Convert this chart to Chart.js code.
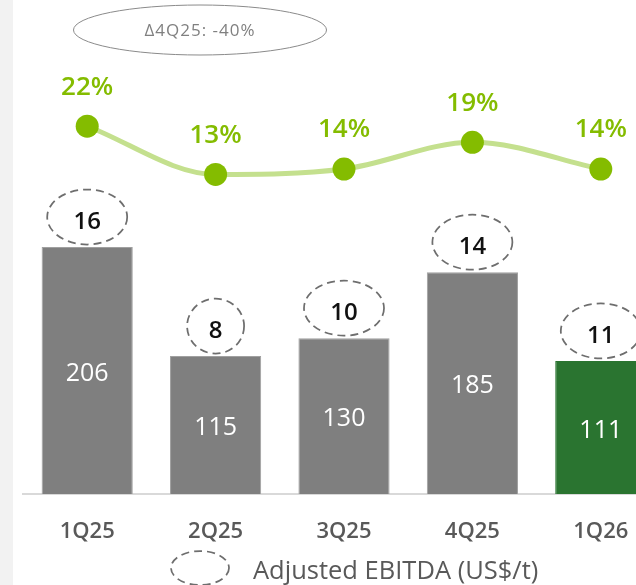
<!DOCTYPE html>
<html><head><meta charset="utf-8">
<script src="https://cdn.jsdelivr.net/npm/chart.js@4"></script>
<style>
html,body{margin:0;padding:0;overflow:hidden;background:#fff}
#wrap{position:relative;width:636px;height:585px;overflow:hidden}
canvas{position:absolute;left:0;top:0}
</style>
</head><body><div id="wrap"><canvas id="c" width="680" height="585" style="width:680px;height:585px"></canvas></div>
<script>
const categories = ['1Q25','2Q25','3Q25','4Q25','1Q26'];
const volumeValues = [206,115,130,185,111];
const marginValues = [22,13,14,19,14];
const marginLabels = ['22%','13%','14%','19%','14%'];
const ebitdaValues = [16,8,10,14,11];
const deltaNote = 'Δ4Q25: -40%';
const legendLabel = 'Adjusted EBITDA (US$/t)';

const FONT = '"Open Sans", "Noto Sans", sans-serif';
const GRAY = '#7f7f7f', GREEN = '#2a7430', LIME = '#84bc00', LIME_LIGHT = '#c4e08e';

function dashedEllipse(c, cx, cy, rx, ry){
  c.save();
  c.setLineDash([8,5]);
  c.lineWidth = 1.75;
  c.strokeStyle = '#6e6e6e';
  c.beginPath();
  c.ellipse(cx, cy, rx, ry, 0, 0, Math.PI*2);
  c.stroke();
  c.restore();
}

const overlay = {
  id: 'overlay',
  beforeDraw(chart){
    const c = chart.ctx;
    c.save();
    c.fillStyle = '#f2f2f2';
    c.fillRect(0, 0, 13, chart.height);
    c.restore();
  },
  afterDatasetsDraw(chart){
    const c = chart.ctx;
    const bars = chart.getDatasetMeta(0).data;
    const pts = chart.getDatasetMeta(1).data;
    c.save();
    c.textAlign = 'center';
    c.textBaseline = 'middle';
    // bar value labels
    c.fillStyle = '#ffffff';
    c.font = '25px ' + FONT;
    bars.forEach((b, i) => {
      c.fillText(String(volumeValues[i]), b.x, (b.y + b.base) / 2 + 3);
    });
    // EBITDA ellipses
    bars.forEach((b, i) => {
      const s = String(ebitdaValues[i]);
      const rx = s.length > 1 ? 40 : 28.5;
      const cy = b.y - 30;
      dashedEllipse(c, b.x, cy, rx, 27.5);
      c.fillStyle = '#111111';
      c.font = '600 24px ' + FONT;
      c.fillText(s, b.x, cy + 5);
    });
    // margin labels
    c.fillStyle = LIME;
    c.font = '600 26px ' + FONT;
    pts.forEach((p, i) => {
      c.fillText(marginLabels[i], p.x, p.y - 39);
    });
    // delta note
    c.strokeStyle = '#8a8a8a';
    c.lineWidth = 1;
    c.setLineDash([]);
    c.beginPath();
    c.ellipse(200, 30, 126.5, 25, 0, 0, Math.PI*2);
    c.stroke();
    c.fillStyle = '#808080';
    c.font = '17px ' + FONT;
    try { c.letterSpacing = '1px'; } catch(e) {}
    c.fillText(deltaNote, 200, 31);
    try { c.letterSpacing = '0px'; } catch(e) {}
    // legend
    dashedEllipse(c, 200, 568, 29, 17);
    c.textAlign = 'left';
    c.fillStyle = '#595959';
    c.font = '25.5px ' + FONT;
    c.fillText(legendLabel, 253, 572);
    c.restore();
  }
};

new Chart(document.getElementById('c'), {
  data: {
    labels: categories,
    datasets: [
      {
        type: 'bar',
        data: volumeValues,
        yAxisID: 'y',
        backgroundColor: volumeValues.map((v, i) => i === volumeValues.length - 1 ? GREEN : GRAY),
        borderColor: volumeValues.map((v, i) => i === volumeValues.length - 1 ? GREEN : '#a0a0a0'),
        borderWidth: 1,
        categoryPercentage: 1,
        barPercentage: 0.71,
        order: 2
      },
      {
        type: 'line',
        data: marginValues,
        yAxisID: 'y2',
        borderColor: LIME_LIGHT,
        borderWidth: 5,
        cubicInterpolationMode: 'monotone',
        pointRadius: 11.5,
        pointBackgroundColor: LIME,
        pointBorderColor: LIME,
        pointBorderWidth: 0,
        clip: false,
        order: 1
      }
    ]
  },
  options: {
    responsive: false,
    animation: false,
    devicePixelRatio: 1,
    events: [],
    layout: { autoPadding: false, padding: { left: 23, right: 15, top: 0, bottom: 0 } },
    plugins: { legend: { display: false }, tooltip: { enabled: false } },
    scales: {
      x: {
        offset: true,
        grid: { display: false, drawTicks: false },
        border: { display: true, color: '#d9d9d9', width: 2 },
        ticks: { color: '#595959', font: { family: FONT, size: 22, weight: '600' }, padding: 25, maxRotation: 0 },
        afterFit(s){ s.height = 91; }
      },
      y: { display: false, min: 0, max: 412 },
      y2: { display: false, min: -46.75, max: 45.6 }
    }
  },
  plugins: [overlay]
});
</script>
</body></html>
